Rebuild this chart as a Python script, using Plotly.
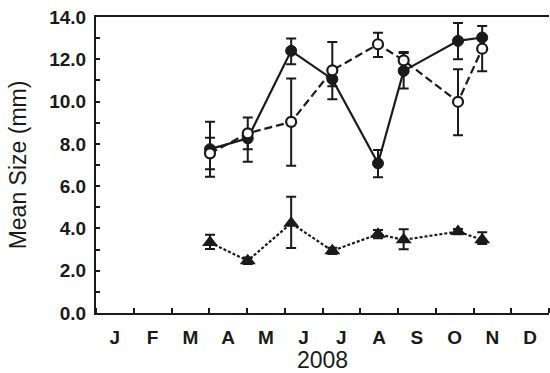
import plotly.graph_objects as go

# Sampling dates expressed as fractional month (0 = 1 Jan, 12 = 31 Dec)
x_month = [3.02, 4.02, 5.17, 6.26, 7.47, 8.15, 9.59, 10.23]

# Filled circles (solid line)
filled_y = [7.75, 8.26, 12.40, 11.06, 7.08, 11.45, 12.87, 13.03]
filled_err_up = [0.54, 0.30, 0.58, 0.33, 0.63, 0.85, 0.85, 0.54]
filled_err_dn = [0.95, 0.51, 0.63, 0.33, 0.66, 0.83, 0.87, 0.50]

# Open circles (dashed line)
open_y = [7.55, 8.50, 9.04, 11.48, 12.71, 11.95, 9.99, 12.50]
open_err_up = [1.49, 0.75, 2.05, 1.34, 0.55, 0.40, 1.54, 0.45]
open_err_dn = [1.10, 1.35, 2.07, 1.37, 0.60, 0.40, 1.58, 1.07]

# Filled triangles (dotted line)
tri_y = [3.33, 2.47, 4.25, 2.94, 3.73, 3.46, 3.85, 3.46]
tri_err_up = [0.37, 0.15, 1.25, 0.15, 0.20, 0.50, 0.12, 0.36]
tri_err_dn = [0.30, 0.15, 1.18, 0.15, 0.20, 0.44, 0.12, 0.20]

month_labels = ["J", "F", "M", "A", "M", "J", "J", "A", "S", "O", "N", "D"]
month_centers = [i + 0.5 for i in range(12)]
y_tickvals = [0, 2, 4, 6, 8, 10, 12, 14]

INK = "#1a1a1a"


def err(up, dn):
    return dict(type="data", symmetric=False, array=up, arrayminus=dn,
                color=INK, thickness=2, width=5)


fig = go.Figure()

fig.add_trace(go.Scatter(
    x=x_month, y=tri_y, mode="lines+markers",
    line=dict(color=INK, width=2.2, dash="3px,2px"),
    marker=dict(symbol="triangle-up", size=14, color=INK),
    error_y=err(tri_err_up, tri_err_dn), showlegend=False))

fig.add_trace(go.Scatter(
    x=x_month, y=filled_y, mode="lines+markers",
    line=dict(color=INK, width=2.2),
    marker=dict(symbol="circle", size=11, color=INK,
                line=dict(color=INK, width=1)),
    error_y=err(filled_err_up, filled_err_dn), showlegend=False))

fig.add_trace(go.Scatter(
    x=x_month, y=open_y, mode="lines+markers",
    line=dict(color=INK, width=2.2, dash="8px,4px"),
    marker=dict(symbol="circle", size=10, color="white",
                line=dict(color=INK, width=2.2)),
    error_y=err(open_err_up, open_err_dn), showlegend=False))

fig.update_layout(
    width=550, height=373,
    margin=dict(l=96, r=1, t=17, b=60),
    paper_bgcolor="white", plot_bgcolor="white",
    font=dict(family="Liberation Sans, Arial, sans-serif", color=INK),
    xaxis=dict(
        range=[0, 12], showgrid=False, zeroline=False,
        showline=True, linecolor=INK, linewidth=2, mirror=True,
        tickvals=month_centers, ticktext=month_labels,
        ticks="", ticklabelstandoff=6,
        tickfont=dict(size=19, family="Liberation Sans, Arial", weight="bold"),
        minor=dict(tick0=0, dtick=1, ticks="inside", ticklen=5,
                   tickwidth=1.5, tickcolor=INK),
        title=dict(text="2008", font=dict(size=23), standoff=5),
    ),
    yaxis=dict(
        range=[0, 14], showgrid=False, zeroline=False,
        showline=True, linecolor=INK, linewidth=2,
        tickvals=y_tickvals, tickformat=".1f",
        ticks="inside", ticklen=4, tickwidth=1.5, tickcolor=INK,
        ticklabelstandoff=4,
        tickfont=dict(size=19, family="Liberation Sans, Arial", weight="bold"),
        minor=dict(dtick=1, ticks="inside", ticklen=4, tickwidth=1.5,
                   tickcolor=INK),
        title=dict(text="Mean Size (mm)", font=dict(size=23), standoff=16),
    ),
)

fig.write_html("out.html")
